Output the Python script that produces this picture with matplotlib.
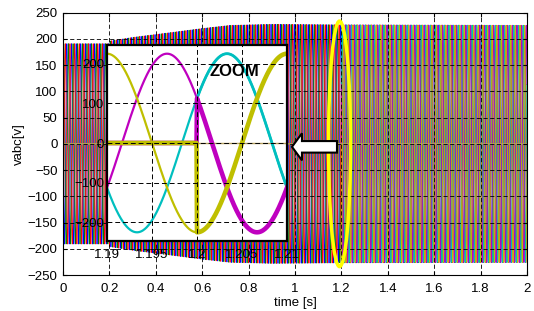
import numpy as np
import matplotlib.pyplot as plt
from matplotlib.patches import Ellipse, Polygon

plt.rcParams['font.family'] = ['Liberation Sans', 'DejaVu Sans']

# grid voltage envelope (time [s], peak [V])
env_t = [0.0, 0.2, 0.2, 0.3, 0.46, 0.6, 0.72, 0.9, 1.2, 2.0]
env_abc = [191, 191, 196, 203, 212, 220, 226, 228, 227, 226]
f_grid = 50.0
phase_abc = [60, -60, 180]        # b, g, r [deg]
spike_abc = [0, 260, -260]        # value of first sample (transient at t=0)

# converter voltages, switched in at t_on
t_on = 1.2
amp_mcy = 226
phase_mcy = [-60, 60, 180]        # c, m, y [deg]

# zoom window
zoom_xlim = [1.19, 1.21]
zoom_xticks = [1.19, 1.195, 1.2, 1.205, 1.21]
zoom_xlabels = ["1.19", "1.195", "1.2", "1.205", "1.21"]
zoom_yticks = [-200, -100, 0, 100, 200]

main_xticks = np.arange(0, 2.01, 0.2)
main_xlabels = ["0", "0.2", "0.4", "0.6", "0.8", "1", "1.2", "1.4", "1.6", "1.8", "2"]
main_yticks = np.arange(-250, 251, 50)

col_abc = [(0, 0, 1), (0, 0.5, 0), (1, 0, 0)]
col_mcy = [(0, 0.75, 0.75), (0.75, 0, 0.75), (0.75, 0.75, 0)]
col_zero = (0.72, 0.64, 0.38)

t = np.linspace(0, 2, 40001)
w = 2 * np.pi * f_grid
env = np.interp(t, env_t, env_abc)

fig = plt.figure(figsize=(5.34, 3.11), dpi=100)
ax = fig.add_axes([63 / 534, 1 - 275 / 311, 464 / 534, 262.3 / 311])

for c, ph, sp in zip(col_abc, phase_abc, spike_abc):
    v = env * np.cos(w * t + np.deg2rad(ph))
    if sp:
        v[0] = sp
    ax.plot(t, v, color=c, lw=0.55)
for c, ph in zip(col_mcy, phase_mcy):
    v = np.where(t >= t_on, amp_mcy * np.cos(w * t + np.deg2rad(ph)), 0)
    ax.plot(t, v, color=c, lw=0.55)
ax.plot(t, np.zeros_like(t), color=col_zero, lw=0.8)

ax.set_xlim(0, 2)
ax.set_ylim(-250, 250)
ax.set_xticks(main_xticks, main_xlabels)
ax.set_yticks(main_yticks)
ax.set_axisbelow(False)
ax.grid(True, color='k', ls=(0, (5, 3)), lw=0.6)
ax.tick_params(direction='in', top=True, right=True, length=3,
               labelsize=9.5, pad=4)
ax.tick_params(axis='x', pad=6)
ax.set_xlabel("time [s]", fontsize=9.5, labelpad=1)
ax.set_ylabel("vabc[v]", fontsize=9.5, labelpad=2)
for s in ax.spines.values():
    s.set_linewidth(0.8)

# yellow ellipse marking the switching instant
ax.add_patch(Ellipse((1.192, 0), 0.095, 468, fill=False,
                     edgecolor=(1, 1, 0), lw=2.5, zorder=5))
# white arrow pointing at the zoom box
ax.add_patch(Polygon([(0.987, -5.7), (1.030, 20.1), (1.030, 5.3),
                      (1.181, 5.3), (1.181, -16.7), (1.030, -16.7),
                      (1.030, -31.5)], closed=True, facecolor='white',
                     edgecolor='k', lw=1.5, zorder=6))

# zoom inset
ax_in = fig.add_axes([107 / 534, 1 - 241 / 311, 180 / 534, 196 / 311])
tz = t[(t >= zoom_xlim[0] - 0.001) & (t <= zoom_xlim[1] + 0.001)]
for c, ph in zip(col_mcy, phase_mcy):
    ax_in.plot(tz, amp_mcy * np.cos(w * tz + np.deg2rad(ph)), color=c, lw=1.6)
ax_in.plot(tz, np.zeros_like(tz), color=col_zero, lw=1.0)
for c, ph in zip(col_mcy, phase_mcy):
    v = np.where(tz >= t_on, amp_mcy * np.cos(w * tz + np.deg2rad(ph)), 0)
    ax_in.plot(tz, v, color=c, lw=3.3 if c != col_mcy[0] else 2.0)

ax_in.set_xlim(zoom_xlim)
ax_in.set_ylim(-248, 248)
ax_in.set_xticks(zoom_xticks, zoom_xlabels)
ax_in.set_yticks(zoom_yticks)
ax_in.set_axisbelow(False)
ax_in.grid(True, color='k', ls=(0, (5, 3)), lw=0.7)
ax_in.tick_params(direction='in', length=0, labelsize=9.5, pad=2)
ax_in.tick_params(axis='x', pad=6)
for s in ax_in.spines.values():
    s.set_linewidth(1.6)
ax_in.text(0.705, 0.867, "ZOOM", transform=ax_in.transAxes, ha='center',
           va='center', fontsize=12, fontweight='bold')

fig.savefig("out.png", dpi=100)
